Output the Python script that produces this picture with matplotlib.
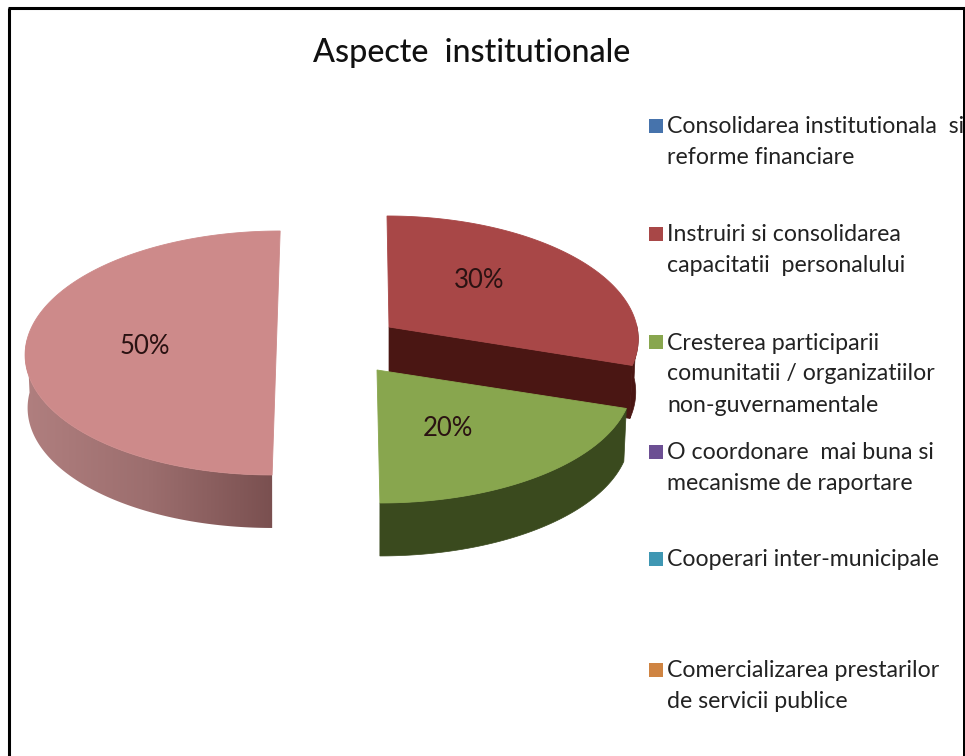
import numpy as np
import matplotlib
matplotlib.use("Agg")
import matplotlib.pyplot as plt
from matplotlib.colors import LinearSegmentedColormap
from matplotlib.patches import Polygon, Rectangle

plt.rcParams['font.family'] = ['Lato', 'DejaVu Sans']

# ---- data ----
TITLE = "Aspecte  institutionale"
categories = [
    "Consolidarea institutionala  si\nreforme financiare",
    "Instruiri si consolidarea\ncapacitatii  personalului",
    "Cresterea participarii\ncomunitatii / organizatiilor\nnon-guvernamentale",
    "O coordonare  mai buna si\nmecanisme de raportare",
    "Cooperari inter-municipale",
    "Comercializarea prestarilor\nde servicii publice",
    "",  # the pale slice has no legend entry in the source
]
values = [0, 30, 20, 0, 0, 0, 50]

# ---- styles ----
legend_colors = ['#4673AC', '#A84747', '#88A64E', '#6C4F93', '#3F97B3', '#CF8442', '#CD8A8A']
wall_colors = {1: '#4A1613', 2: '#3A4A1E'}
pink_wall = ['#B07F7F', '#9C6E6E', '#7A5050']
legend_y = [142, 250, 374, 468, 560, 686]
centers = {1: (389, 327), 2: (377, 370), 6: (276.5, 342)}
slants = {1: 0.018, 2: 0.022, 6: -0.033}
radii_x = {1: 248, 2: 254, 6: 250}
label_nudge = {1: (3, -15), 2: (0, 13), 6: (-19, 5)}
RY, P, DEPTH, SHRINK = 121, 0.09, 53, 0.99

fig = plt.figure(figsize=(9.65, 7.56), dpi=100, facecolor='white')
ax = fig.add_axes([0, 0, 1, 1])
ax.axis('off')


def project(idx, theta, f=1.0):
    s, c = np.sin(theta), np.cos(theta)
    d = 1 + P * s * f
    y = -RY * s * f / d
    x = radii_x[idx] * c * f / d + slants[idx] * y
    return centers[idx][0] + x, centers[idx][1] + y


def extrude(idx, x, y):
    return centers[idx][0] + (x - centers[idx][0]) * SHRINK, y + DEPTH


total = sum(values)
angle = np.pi / 2
for i, v in enumerate(values):
    if v == 0:
        continue
    a0 = angle
    a1 = angle - 2 * np.pi * v / total
    angle = a1
    th = np.linspace(a0, a1, 240)
    xs, ys = project(i, th)
    cx, cy = centers[i]

    # cut face towards the viewer (only the 30% slice shows it)
    if i == 1:
        xe, ye = project(i, a1)
        bx, by = extrude(i, xe, ye)
        ax.add_patch(Polygon([(cx, cy), (xe, ye), (bx, by), (cx, cy + DEPTH)],
                             closed=True, fc=wall_colors[i], ec=wall_colors[i], lw=0.5))

    # outer wall on the front half of the rim
    front = np.sin(th) <= 0.02
    xf, yf = xs[front], ys[front]
    bx, by = extrude(i, xf, yf)
    outline = np.column_stack([np.r_[xf, bx[::-1]], np.r_[yf, by[::-1]]])
    if i == 6:
        wall = Polygon(outline, closed=True, fc='none', ec='none')
        ax.add_patch(wall)
        cmap = LinearSegmentedColormap.from_list('wall', pink_wall)
        im = ax.imshow(np.linspace(0, 1, 256)[None, :], cmap=cmap, aspect='auto',
                       extent=(outline[:, 0].min(), outline[:, 0].max(),
                               outline[:, 1].max(), outline[:, 1].min()), zorder=1)
        im.set_clip_path(wall)
    else:
        ax.add_patch(Polygon(outline, closed=True, fc=wall_colors[i], ec=wall_colors[i], lw=0.5))

    # top face
    ax.add_patch(Polygon(np.column_stack([np.r_[cx, xs], np.r_[cy, ys]]), closed=True,
                         fc=legend_colors[i], ec=legend_colors[i], lw=0.6, zorder=2))

    # percentage label
    mid = (a0 + a1) / 2
    lx, ly = project(i, mid, 0.45)
    ax.text(lx + label_nudge[i][0], ly + label_nudge[i][1], f"{v}%", fontsize=18.5,
            ha='center', va='center', color='#2a1212', zorder=3)

# title
ax.text(472, 53, TITLE, fontsize=23.2, ha='center', va='center', color='#111111', fontweight='medium')

# legend
for name, col, y in zip(categories, legend_colors, legend_y):
    lines = name.split("\n")
    first = y - (len(lines) - 1) * 31 / 2
    ax.add_patch(Rectangle((649, first - 8), 14, 14, fc=col, ec='none'))
    for j, line in enumerate(lines):
        ax.text(667, first + j * 31, line, fontsize=16.7, ha='left', va='center', color='#222222')

# screenshot frame
ax.plot([9, 9], [756, 8], color='black', lw=2.2, solid_capstyle='butt', zorder=5)
ax.plot([8, 965], [8, 8], color='black', lw=2.2, solid_capstyle='butt', zorder=5)
ax.add_patch(Rectangle((963, 7), 2, 749, fc='black', ec='none', zorder=5))

ax.set_xlim(0, 965)
ax.set_ylim(756, 0)

fig.savefig('out.png', dpi=100, facecolor='white')
